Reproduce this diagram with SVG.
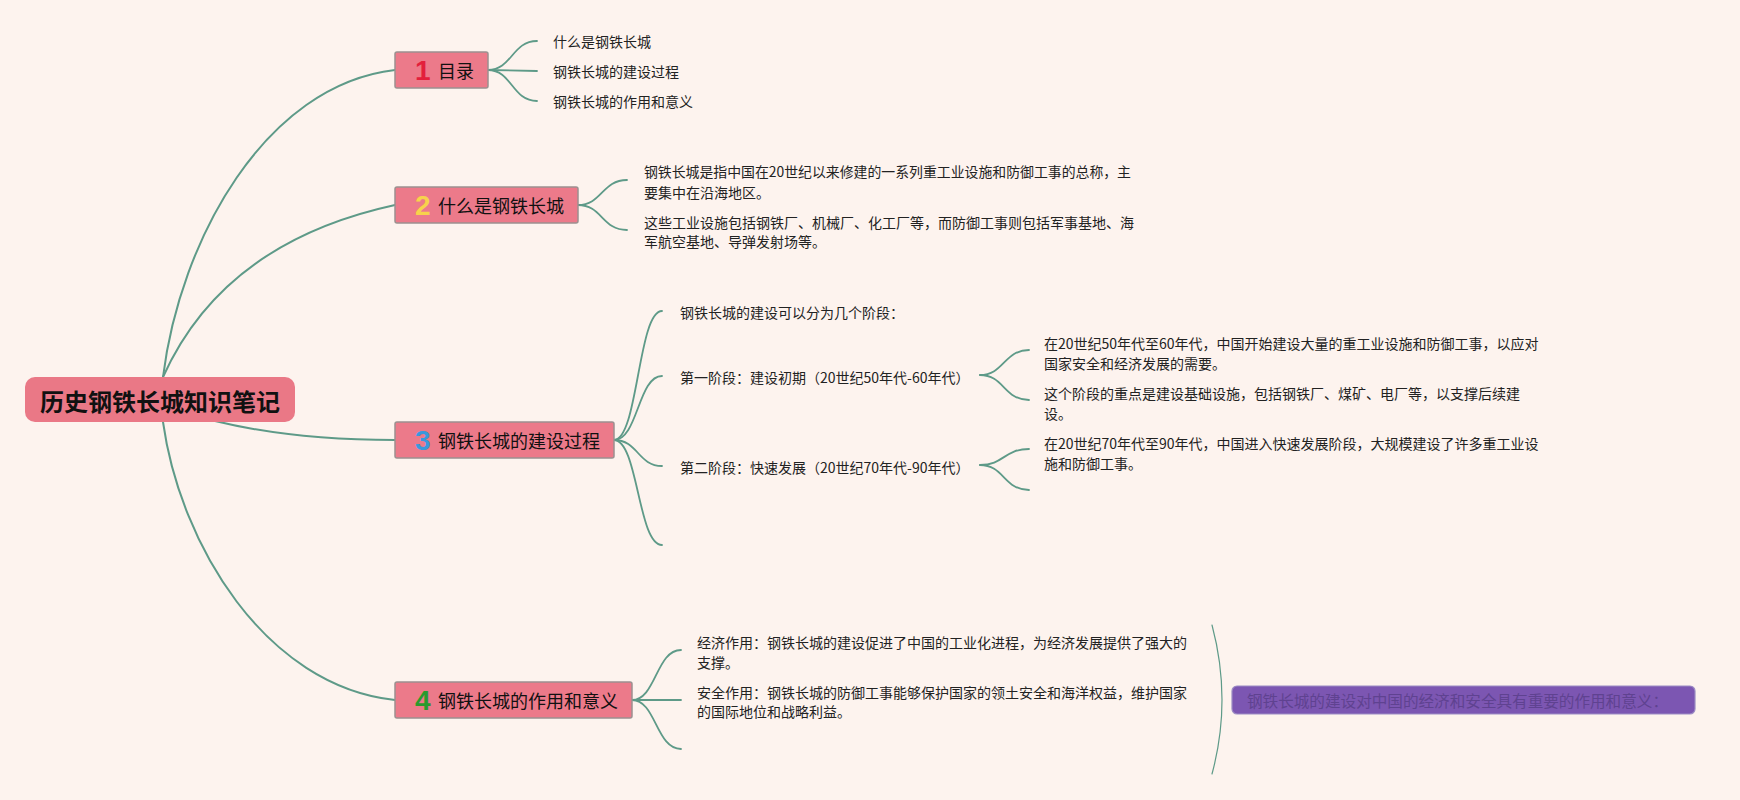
<svg xmlns="http://www.w3.org/2000/svg" width="1740" height="800" viewBox="0 0 1740 800">
<style>
.cn{fill:none;stroke:#5e9a88;stroke-width:1.8;stroke-linecap:round}
.main{stroke-width:2}
.node{fill:#ec7a8a;stroke:#9c9090;stroke-width:1.5}
.nt{font-family:"Noto Sans CJK SC","Liberation Sans",sans-serif;font-size:18px;fill:#111;dominant-baseline:central}
.num{font-family:"Liberation Sans",Arial,sans-serif;font-weight:bold;font-size:28px;dominant-baseline:central}
.ct{font-family:"Noto Sans CJK SC","Liberation Sans",sans-serif;font-size:14px;fill:#222;dominant-baseline:central}
</style>
<rect width="1740" height="800" fill="#fdf3ee"/>
<g id="connectors">
<path class="cn main" d="M163,377 C180,240 265,85 395,70"/>
<path class="cn main" d="M163,377 C203,288 280,230 395,205"/>
<path class="cn main" d="M215,421 C260,432 320,440 395,440"/>
<path class="cn main" d="M163,422 C180,544 265,686 395,700"/>
<path class="cn" d="M488,70 C512,70 512,41 537,41"/>
<path class="cn" d="M488,70 L537,71"/>
<path class="cn" d="M488,70 C512,70 512,101 537,101"/>
<path class="cn" d="M578,205 C602,205 602,180 627,180"/>
<path class="cn" d="M578,205 C602,205 602,230 627,230"/>
<path class="cn" d="M614,440 C638,440 638,311 662,311"/>
<path class="cn" d="M614,440 C638,440 638,376 662,376"/>
<path class="cn" d="M614,440 C638,440 638,466 662,466"/>
<path class="cn" d="M614,440 C638,440 638,545 662,545"/>
<path class="cn" d="M980,375 C1004,375 1004,350 1029,350"/>
<path class="cn" d="M980,375 C1004,375 1004,400 1029,400"/>
<path class="cn" d="M980,465 C1004,465 1004,449 1029,449"/>
<path class="cn" d="M980,465 C1004,465 1004,490 1029,490"/>
<path class="cn" d="M632,700 C656,700 656,650 681,650"/>
<path class="cn" d="M632,700 L681,700"/>
<path class="cn" d="M632,700 C656,700 656,749 681,749"/>
<path class="cn" style="stroke-width:1.2" d="M1212,625 Q1232,700 1212,774"/>
</g>
<g id="root">
<rect x="25" y="377" width="270" height="45" rx="10" fill="#ea7886"/>
<text x="160" y="400" text-anchor="middle" style="font-family:'Noto Sans CJK SC','Liberation Sans',sans-serif;font-size:24px;font-weight:bold;fill:#111;dominant-baseline:central">历史钢铁长城知识笔记</text>
</g>
<g id="node1">
<rect class="node" x="395" y="52" width="93" height="36" rx="2"/>
<text class="num" x="415" y="70" fill="#e3203c">1</text>
<text class="nt" x="438" y="70">目录</text>
</g>
<g id="node1-children">
<text class="ct" x="553" y="41">什么是钢铁长城</text>
<text class="ct" x="553" y="71">钢铁长城的建设过程</text>
<text class="ct" x="553" y="101">钢铁长城的作用和意义</text>
</g>
<g id="node2">
<rect class="node" x="395" y="187" width="183" height="36" rx="2"/>
<text class="num" x="415" y="205" fill="#f7d24c">2</text>
<text class="nt" x="438" y="205">什么是钢铁长城</text>
</g>
<g id="node2-children">
<text class="ct" x="644" y="171" textLength="487" lengthAdjust="spacingAndGlyphs">钢铁长城是指中国在20世纪以来修建的一系列重工业设施和防御工事的总称，主</text>
<text class="ct" x="644" y="192">要集中在沿海地区。</text>
<text class="ct" x="644" y="222">这些工业设施包括钢铁厂、机械厂、化工厂等，而防御工事则包括军事基地、海</text>
<text class="ct" x="644" y="241">军航空基地、导弹发射场等。</text>
</g>
<g id="node3">
<rect class="node" x="395" y="422" width="219" height="36" rx="2"/>
<text class="num" x="415" y="440" fill="#3a98dc">3</text>
<text class="nt" x="438" y="440">钢铁长城的建设过程</text>
</g>
<g id="node3-children">
<text class="ct" x="680" y="312">钢铁长城的建设可以分为几个阶段：</text>
<text class="ct" x="680" y="377">第一阶段：建设初期（20世纪50年代-60年代）</text>
<text class="ct" x="680" y="467">第二阶段：快速发展（20世纪70年代-90年代）</text>
</g>
<g id="stage1-children">
<text class="ct" x="1044" y="343">在20世纪50年代至60年代，中国开始建设大量的重工业设施和防御工事，以应对</text>
<text class="ct" x="1044" y="363">国家安全和经济发展的需要。</text>
<text class="ct" x="1044" y="393">这个阶段的重点是建设基础设施，包括钢铁厂、煤矿、电厂等，以支撑后续建</text>
<text class="ct" x="1044" y="413">设。</text>
</g>
<g id="stage2-children">
<text class="ct" x="1044" y="443">在20世纪70年代至90年代，中国进入快速发展阶段，大规模建设了许多重工业设</text>
<text class="ct" x="1044" y="463">施和防御工事。</text>
</g>
<g id="node4">
<rect class="node" x="395" y="682" width="237" height="36" rx="2"/>
<text class="num" x="415" y="700" fill="#2a9a2e">4</text>
<text class="nt" x="438" y="700">钢铁长城的作用和意义</text>
</g>
<g id="node4-children">
<text class="ct" x="697" y="642">经济作用：钢铁长城的建设促进了中国的工业化进程，为经济发展提供了强大的</text>
<text class="ct" x="697" y="662">支撑。</text>
<text class="ct" x="697" y="692">安全作用：钢铁长城的防御工事能够保护国家的领土安全和海洋权益，维护国家</text>
<text class="ct" x="697" y="711">的国际地位和战略利益。</text>
</g>
<g id="summary">
<rect x="1232" y="686" width="463" height="28" rx="5" fill="#7c56b2" stroke="#9c8cc4" stroke-width="1.2"/>
<text x="1247" y="700" textLength="421" lengthAdjust="spacingAndGlyphs" style="font-family:'Noto Sans CJK SC','Liberation Sans',sans-serif;font-size:15.6px;fill:#5f4290;dominant-baseline:central">钢铁长城的建设对中国的经济和安全具有重要的作用和意义：</text>
</g>
</svg>
